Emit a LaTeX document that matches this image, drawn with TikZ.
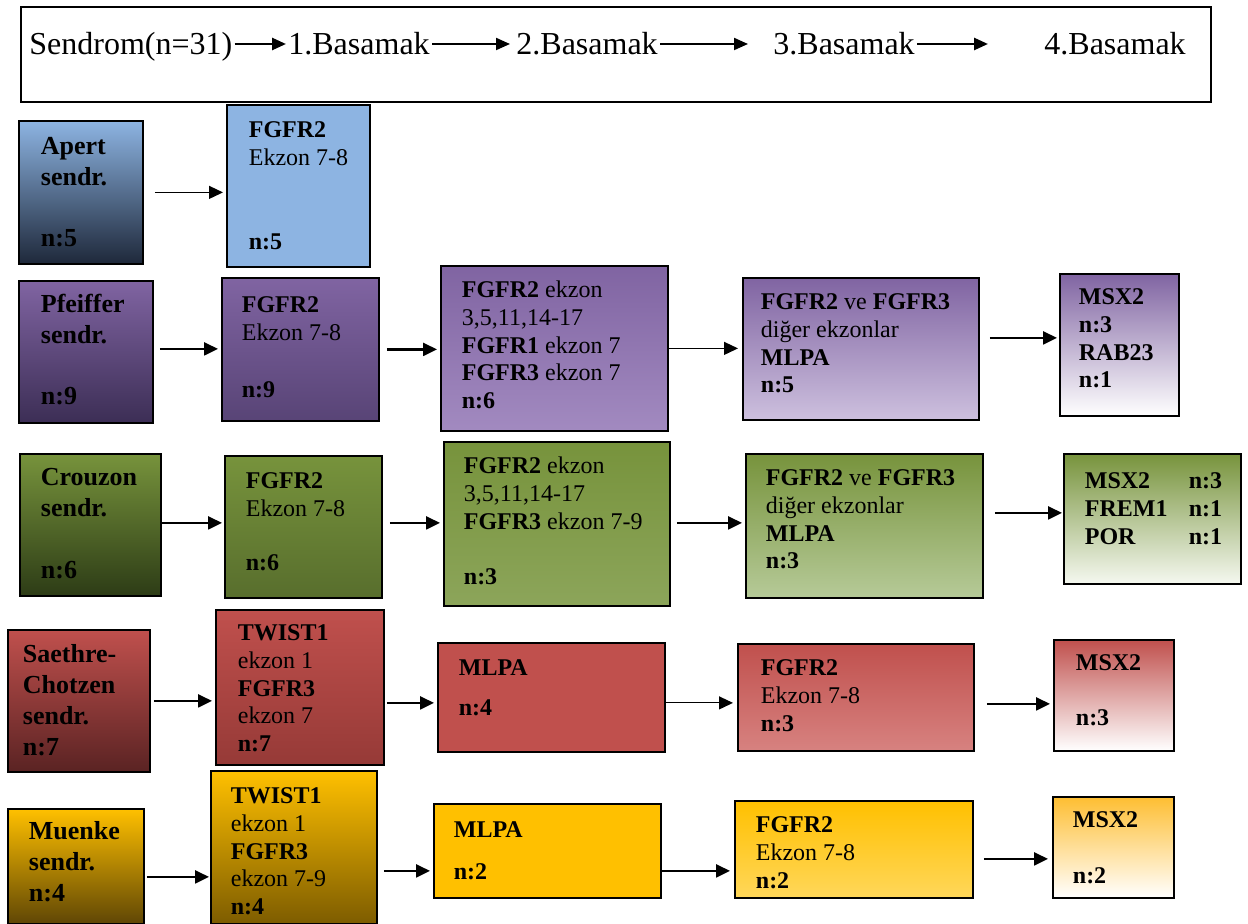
\documentclass[tikz,border=0pt]{standalone}
\usepackage{fontspec}
\setmainfont{Liberation Serif}
\definecolor{cblue}{RGB}{141,180,226}
\definecolor{cblueD}{RGB}{30,40,58}
\definecolor{cpurple}{RGB}{128,100,162}
\definecolor{cpurD1}{RGB}{60,46,85}
\definecolor{cpurD2}{RGB}{88,68,118}
\definecolor{cpurL1}{RGB}{162,138,192}
\definecolor{cpurL2}{RGB}{205,192,222}
\definecolor{cgreen}{RGB}{119,147,60}
\definecolor{cgrnD1}{RGB}{45,60,22}
\definecolor{cgrnD2}{RGB}{88,110,45}
\definecolor{cgrnL1}{RGB}{140,165,90}
\definecolor{cgrnL2}{RGB}{182,202,152}
\definecolor{cgrnL3}{RGB}{245,248,240}
\definecolor{cred}{RGB}{192,80,77}
\definecolor{credD1}{RGB}{90,35,35}
\definecolor{credD2}{RGB}{150,58,55}
\definecolor{credL1}{RGB}{215,130,128}
\definecolor{cyellow}{RGB}{255,192,0}
\definecolor{cyelD1}{RGB}{95,70,5}
\definecolor{cyelD2}{RGB}{125,92,0}
\definecolor{cyelL1}{RGB}{255,215,90}
\definecolor{cyelM}{RGB}{254,190,50}
\usetikzlibrary{arrows.meta}
% width, height, left pad, first baseline, text
\newcommand{\cell}[5]{\parbox[t][#2pt][t]{#1pt}{\raggedright\leftskip=#3pt\rule{0pt}{#4pt}#5}}

\begin{document}
\begin{tikzpicture}[x=0.5pt,y=-0.5pt,
  box/.style={draw,line width=0.9pt,anchor=north west,inner sep=0pt,font=\fontsize{12}{13.8}\selectfont},
  syn/.style={box,font=\fontsize{13}{15.5}\selectfont\bfseries},
  head/.style={anchor=base west,inner xsep=1pt,inner ysep=0pt,text height=12pt,text depth=1pt,font=\fontsize{16}{19}\selectfont},
  arr/.style={-{Triangle[length=7pt,width=6.5pt]},line width=1.2pt},
  tarr/.style={arr,line width=0.6pt},
  harr/.style={-{Triangle[length=7pt,width=6pt]},line width=1pt}]
  \useasboundingbox (0,0) rectangle (1248,924);
  % header
  \node[draw,line width=0.9pt,anchor=north west,minimum width=595pt,minimum height=47.5pt,inner sep=0pt] (hbox) at (20,6) {};
  \node[head] (hsend) at (27,55) {Sendrom(n=31)};
  \node[head] (hb1) at (286,55) {1.Basamak};
  \node[head] (hb2) at (514,55) {2.Basamak};
  \node[head] (hb3) at (771,55) {3.Basamak};
  \node[head] (hb4) at (1042,55) {4.Basamak};
  \draw[harr,line width=1.3pt] (hsend) -- (hb1);
  \draw[harr,shorten >=2pt] (hb1) -- (hb2);
  \draw[harr,shorten >=11.5pt] (hb2) -- (hb3);
  \draw[harr,line width=1.3pt,shorten >=27pt] (hb3) -- (hb4);

  % Apert
  \node[syn,top color=cblue,bottom color=cblueD] (ap1) at (18,120) {\cell{62}{71.5}{11}{17}{Apert\\sendr.\\[15pt]n:5}};
  \node[box,fill=cblue] (ap2) at (226,104) {\cell{71.5}{81}{11}{16.5}{\textbf{FGFR2}\\Ekzon 7-8\\[28.2pt]\textbf{n:5}}};
  \draw[tarr,shorten <=5.5pt,shorten >=1.5pt] (ap1.east) -- (ap1.east -| ap2.west);

  % Pfeiffer
  \node[syn,top color=cpurple,bottom color=cpurD1] (pf1) at (18,280) {\cell{67}{71}{11}{16}{Pfeiffer\\sendr.\\[15pt]n:9}};
  \node[box,top color=cpurple,bottom color=cpurD2] (pf2) at (221,277) {\cell{78.5}{71.5}{10}{17.5}{\textbf{FGFR2}\\Ekzon 7-8\\[14.7pt]\textbf{n:9}}};
  \node[box,top color=cpurple,bottom color=cpurL1] (pf3) at (440,265) {\cell{113.5}{82.5}{10.5}{16}{\textbf{FGFR2} ekzon\\3,5,11,14-17\\\textbf{FGFR1} ekzon 7\\\textbf{FGFR3} ekzon 7\\\textbf{n:6}}};
  \node[box,top color=cpurple,bottom color=cpurL2] (pf4) at (742,277) {\cell{118}{71}{9}{16}{\textbf{FGFR2} ve \textbf{FGFR3}\\diğer ekzonlar\\\textbf{MLPA}\\\textbf{n:5}}};
  \node[box,top color=cpurple,bottom color=white] (pf5) at (1059,273) {\cell{59.5}{71}{9.5}{15.5}{\textbf{MSX2}\\\textbf{n:3}\\\textbf{RAB23}\\\textbf{n:1}}};
  \draw[arr,shorten <=3pt,shorten >=1.5pt] ([yshift=1.5pt]pf1.east) -- ([yshift=1.5pt]pf1.east -| pf2.west);
  \draw[arr,shorten <=3.5pt,shorten >=1.5pt] (pf2.east) -- (pf2.east -| pf3.west);
  \draw[tarr,shorten >=2pt] (pf3.east) -- (pf3.east -| pf4.west);
  \draw[arr,shorten <=5pt,shorten >=1pt] ([yshift=5.5pt]pf4.east) -- ([yshift=5.5pt]pf4.east -| pf5.west);

  % Crouzon
  \node[syn,top color=cgreen,bottom color=cgrnD1] (cr1) at (19,453) {\cell{70.5}{71}{10.5}{16}{Crouzon\\sendr.\\[15.5pt]n:6}};
  \node[box,top color=cgreen,bottom color=cgrnD2] (cr2) at (224,455) {\cell{78.5}{71}{10.5}{16.5}{\textbf{FGFR2}\\Ekzon 7-8\\[13.2pt]\textbf{n:6}}};
  \node[box,top color=cgreen,bottom color=cgrnL1] (cr3) at (443,441) {\cell{113}{82}{10}{16}{\textbf{FGFR2} ekzon\\3,5,11,14-17\\\textbf{FGFR3} ekzon 7-9\\[13.7pt]\textbf{n:3}}};
  \node[box,top color=cgreen,bottom color=cgrnL2] (cr4) at (745,453) {\cell{118.5}{72}{10}{16}{\textbf{FGFR2} ve \textbf{FGFR3}\\diğer ekzonlar\\\textbf{MLPA}\\\textbf{n:3}}};
  \node[box,top color=cgreen,bottom color=cgrnL3] (cr5) at (1063,453) {\cell{88.5}{65}{10.5}{17.5}{\makebox[52pt][l]{\textbf{MSX2}}\textbf{n:3}\\\makebox[52pt][l]{\textbf{FREM1}}\textbf{n:1}\\\makebox[52pt][l]{\textbf{POR}}\textbf{n:1}}};
  \draw[arr,shorten >=1pt] ([yshift=1pt]cr1.east) -- ([yshift=1pt]cr1.east -| cr2.west);
  \draw[arr,shorten <=3.5pt,shorten >=1.5pt] ([yshift=2pt]cr2.east) -- ([yshift=2pt]cr2.east -| cr3.west);
  \draw[arr,shorten <=3pt,shorten >=1.5pt] ([yshift=0.5pt]cr3.east) -- ([yshift=0.5pt]cr3.east -| cr4.west);
  \draw[arr,shorten <=5.5pt,shorten >=0.5pt] ([yshift=6.5pt]cr4.east) -- ([yshift=6.5pt]cr4.east -| cr5.west);

  % Saethre-Chotzen
  \node[syn,top color=cred,bottom color=credD1] (sc1) at (7,629) {\cell{71}{71}{7.5}{16.5}{Saethre-\\Chotzen\\sendr.\\n:7}};
  \node[box,top color=cred,bottom color=credD2] (sc2) at (215,609) {\cell{84}{77.5}{11}{15.5}{\textbf{TWIST1}\\ekzon 1\\\textbf{FGFR3}\\ekzon 7\\\textbf{n:7}}};
  \node[box,fill=cred] (sc3) at (437,642) {\cell{113.5}{54.5}{10.5}{16.5}{\textbf{MLPA}\\[6.2pt]\textbf{n:4}}};
  \node[box,top color=cred,bottom color=credL1] (sc4) at (737,643) {\cell{118}{53.5}{11.5}{16}{\textbf{FGFR2}\\Ekzon 7-8\\\textbf{n:3}}};
  \node[box,top color=cred,bottom color=white] (sc5) at (1053,639) {\cell{60}{55.5}{11}{15.5}{\textbf{MSX2}\\[13.7pt]\textbf{n:3}}};
  \draw[arr,shorten <=1.5pt,shorten >=1.5pt] (sc1.east) -- (sc1.east -| sc2.west);
  \draw[arr,shorten <=1pt,shorten >=1.5pt] ([yshift=-7.75pt]sc2.east) -- ([yshift=-7.75pt]sc2.east -| sc3.west);
  \draw[tarr,shorten >=2pt] ([yshift=-2.75pt]sc3.east) -- ([yshift=-2.75pt]sc3.east -| sc4.west);
  \draw[arr,shorten <=6pt,shorten >=1.5pt] ([yshift=-3.25pt]sc4.east) -- ([yshift=-3.25pt]sc4.east -| sc5.west);

  % Muenke
  \node[syn,top color=cyellow,bottom color=cyelD1] (mu1) at (7,808) {\cell{68}{57.5}{10.5}{15.5}{Muenke\\sendr.\\n:4}};
  \node[box,top color=cyellow,bottom color=cyelD2] (mu2) at (210,770) {\cell{83}{76.5}{10}{16.5}{\textbf{TWIST1}\\ekzon 1\\\textbf{FGFR3}\\ekzon 7-9\\\textbf{n:4}}};
  \node[box,fill=cyellow] (mu3) at (433,803) {\cell{113.5}{47}{10}{17}{\textbf{MLPA}\\[7.2pt]\textbf{n:2}}};
  \node[box,top color=cyellow,bottom color=cyelL1] (mu4) at (734,800) {\cell{119}{48.5}{10.5}{16}{\textbf{FGFR2}\\Ekzon 7-8\\\textbf{n:2}}};
  \node[box,top color=cyelM,bottom color=white] (mu5) at (1052,796) {\cell{60.5}{50.5}{10}{15.5}{\textbf{MSX2}\\[14.2pt]\textbf{n:2}}};
  \draw[arr,shorten <=1pt,shorten >=0.5pt] ([yshift=-5.25pt]mu1.east) -- ([yshift=-5.25pt]mu1.east -| mu2.west);
  \draw[arr,shorten <=3pt,shorten >=1.5pt] ([yshift=-11.75pt]mu2.east) -- ([yshift=-11.75pt]mu2.east -| mu3.west);
  \draw[arr,shorten >=2pt] ([yshift=-10pt]mu3.east) -- ([yshift=-10pt]mu3.east -| mu4.west);
  \draw[arr,shorten <=5pt,shorten >=2pt] ([yshift=-4.75pt]mu4.east) -- ([yshift=-4.75pt]mu4.east -| mu5.west);
\end{tikzpicture}
\end{document}
